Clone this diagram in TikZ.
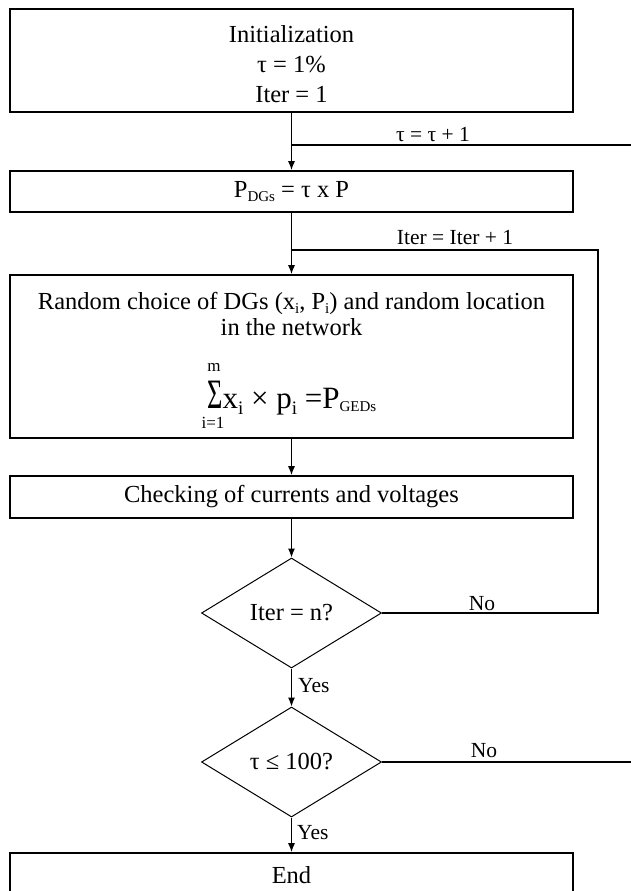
\documentclass[tikz,border=0pt]{standalone}
\usepackage{fontspec}
\setmainfont{Liberation Serif}
\usetikzlibrary{arrows.meta,shapes.geometric}
\newcommand{\dn}[3]{\raisebox{-#1pt}{\fontsize{#2}{#2}\selectfont #3}}
\begin{document}
\begin{tikzpicture}[x=1pt,y=-1pt,
  box/.style={draw, line width=1.6pt, minimum width=563pt, inner sep=0pt, align=center, font=\fontsize{24.5}{30}\selectfont},
  btext/.style={inner sep=0pt, align=center, font=\fontsize{24.5}{30}\selectfont},
  dec/.style={draw, diamond, line width=1pt, minimum width=180pt, minimum height=110pt, inner sep=0pt, font=\fontsize{24.5}{30}\selectfont},
  conn/.style={line width=1.2pt},
  arr/.style={conn, -{Latex[length=9pt,width=7pt]}},
  lbl/.style={font=\fontsize{21.5}{25}\selectfont, inner sep=0pt, anchor=base}]
\useasboundingbox (0,0) rectangle (631,891);
% boxes
\node[box, minimum height=103pt] (init) at (291.5,60.5) {};
\node[btext] (initt) at (291.5,64) {Initialization\\τ = 1\%\\Iter = 1};
\node[box, minimum height=41pt] (pdg) at (291.5,191.5) {P\dn{4}{15}{DGs} = τ x P};
\node[box, minimum height=163pt] (rand) at (291.5,356.5) {};
\node[btext, anchor=base] (r1) at (291.5,309) {Random choice of DGs (x\dn{4}{15}{i}, P\dn{4}{15}{i}) and random location};
\node[btext, anchor=base] (r2) at (291.5,335) {in the network};
\node[inner sep=0pt, anchor=base west, font=\fontsize{31}{31}\selectfont] (sumf) at (207,408) {\scalebox{0.85}[1.35]{Σ}x\dn{6}{19}{i} × p\dn{6}{19}{i} =P\dn{3}{15}{GEDs}};
\node[inner sep=0pt, font=\fontsize{17}{17}\selectfont] (sumtop) at (214,367) {m};
\node[inner sep=0pt, font=\fontsize{17}{17}\selectfont] (sumbot) at (213,423) {i=1};
\node[box, minimum height=42pt] (check) at (291.5,497) {Checking of currents and voltages};
\node[dec] (d1) at (291.5,613) {Iter = n?};
\node[dec] (d2) at (291.5,762) {τ ≤ 100?};
\node[box, minimum height=44pt] (endb) at (291.5,875) {End};
% coordinates
\coordinate (tauJ) at (291.5,145);
\coordinate (tauR) at (631,145);
\coordinate (iterJ) at (291.5,250);
\coordinate (iterC) at (598,250);
\coordinate (noR) at (631,762);
% connectors
\draw[arr] (init) -- (pdg);
\draw[conn] (tauR) -- (tauJ);
\draw[arr] (pdg) -- (rand);
\draw[conn] (d1.east) -| (iterC) -- (iterJ);
\draw[arr] (rand) -- (check);
\draw[arr] (check) -- (d1);
\draw[arr] (d1) -- (d2);
\draw[arr] (d2) -- (endb);
\draw[conn] (d2.east) -- (noR);
% labels
\node[lbl] (ltau) at (433,141) {τ = τ + 1};
\node[lbl] (liter) at (455,244) {Iter = Iter + 1};
\node[lbl] (lno1) at (482,610) {No};
\node[lbl, anchor=base west] (lyes1) at (298,692) {Yes};
\node[lbl] (lno2) at (484,757) {No};
\node[lbl, anchor=base west] (lyes2) at (297,839) {Yes};
\end{tikzpicture}
\end{document}
